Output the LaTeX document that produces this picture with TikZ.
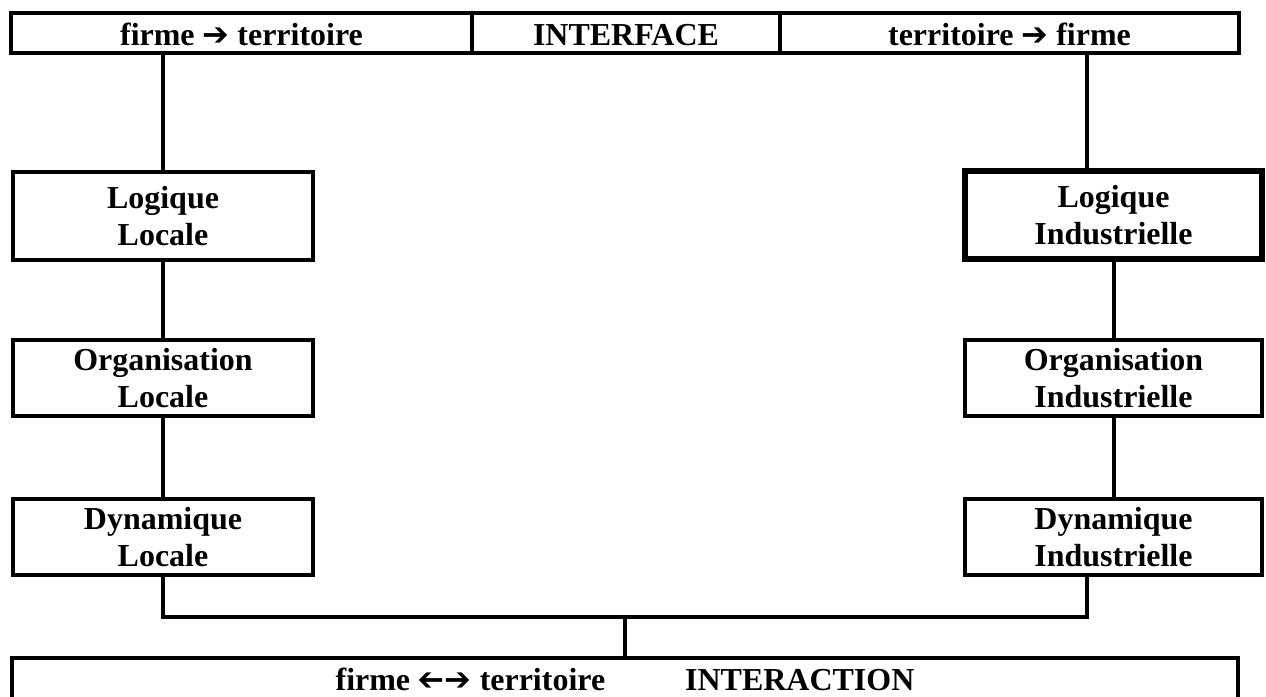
\documentclass[tikz,border=0pt]{standalone}
\usepackage{fontspec}
\setmainfont{Liberation Serif}
\newfontfamily\arr{DejaVu Sans}
\usepackage{tikz}

\begin{document}
\begin{tikzpicture}[x=0.02cm,y=-0.02cm,line width=0.08cm,
    every node/.style={font=\fontsize{18.2}{21}\selectfont\bfseries,align=center,inner sep=0pt},
    cell/.style={draw,minimum height=0.8cm,text height=0.56cm,text depth=0.04cm},
    lbox/.style={draw,minimum width=6.02cm},
    rbox/.style={draw,minimum width=5.94cm}]
        \useasboundingbox (0,0) rectangle (1266,696);

        % bandeau du haut
        \node[cell,minimum width=9.22cm] (ft) at (241.5,33) {firme {\arr ➔} territoire};
        \node[cell,minimum width=6.16cm] (itf) at (626,33) {INTERFACE};
        \node[cell,minimum width=9.18cm] (tf) at (1009.5,33) {territoire {\arr ➔} firme};

        % colonne locale
        \node[lbox,minimum height=1.76cm] (ll) at (163,216) {Logique\\Locale};
        \node[lbox,minimum height=1.52cm] (ol) at (163,378) {Organisation\\Locale};
        \node[lbox,minimum height=1.52cm] (dl) at (163,537) {Dynamique\\Locale};

        % colonne industrielle
        \node[rbox,minimum height=1.76cm,line width=0.12cm] (li) at (1113.5,215) {Logique\\Industrielle};
        \node[rbox,minimum height=1.52cm] (oi) at (1113.5,378) {Organisation\\Industrielle};
        \node[rbox,minimum height=1.52cm] (di) at (1113.5,537) {Dynamique\\Industrielle};

        \node[draw,minimum width=24.52cm,minimum height=0.84cm] (ia) at (625,679)
        {firme {\arr\reflectbox{➔}➔} territoire\hspace{1.6cm}INTERACTION};

        \coordinate (rt) at (1087,0);

        \draw (ll.north) -- (ll.north |- ft.south);
        \draw (ll) -- (ol);
        \draw (ol) -- (dl);

        \draw (rt |- li.north) -- (rt |- tf.south);
        \draw (li) -- (oi);
        \draw (oi) -- (di);

        \draw (dl.south) -- ++(0,40) -| (rt |- di.south);
        \draw (ia.north) -- ++(0,-39);
      \end{tikzpicture}
\end{document}
